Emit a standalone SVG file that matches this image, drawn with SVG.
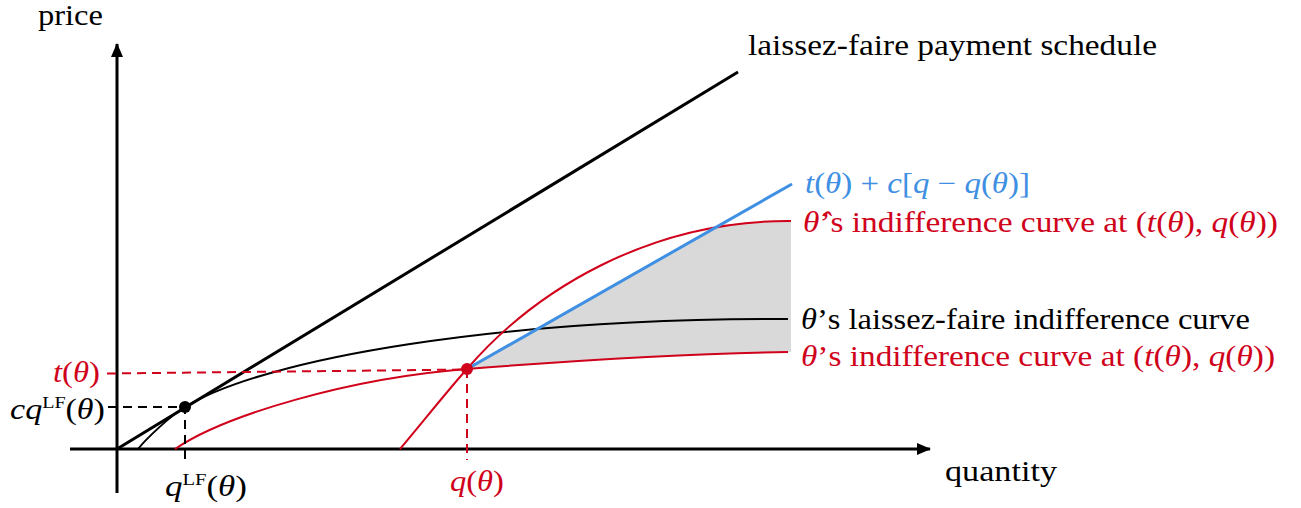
<svg xmlns="http://www.w3.org/2000/svg" width="1301" height="508" viewBox="0 0 1301 508">
<style>
text{font-family:"Liberation Serif","DejaVu Serif",serif;font-size:29px;fill:#000}
.it{font-style:italic}
.sup{font-size:17px}
.red{fill:#d0021b}
.blue{fill:#3f8fe3}
.ax{stroke:#000;stroke-width:3;fill:none}
.thin{stroke-width:2;fill:none}
.dash{stroke-width:2;stroke-dasharray:9 6;fill:none}
</style>
<defs>
<marker id="arr" viewBox="0 0 14 12" refX="13" refY="6" markerWidth="14" markerHeight="12" markerUnits="userSpaceOnUse" orient="auto">
<path d="M0,0 L14,6 L0,12 Z" fill="#000"/>
</marker>
<clipPath id="belowBlue"><polygon points="467,369 900,123 900,500 467,500"/></clipPath>
</defs>
<g id="shade">
<path d="M467,369 C535,290 650,220 791,221 L791,352 L788,352 C700,353 580,360 467,369 Z" fill="#d9d9d9" clip-path="url(#belowBlue)"/>
</g>
<g id="connectors">
<line id="xaxis" class="ax" x1="70" y1="449" x2="930" y2="449" marker-end="url(#arr)"/>
<line id="yaxis" class="ax" x1="117" y1="493" x2="117" y2="44" marker-end="url(#arr)"/>
<line id="lf-schedule" class="ax" x1="117" y1="449" x2="738" y2="72"/>
<path id="lf-indiff" class="thin" stroke="#000" d="M138,449 C146,439 170,416 185,407 C265,358 500,318 788,319"/>
<path id="theta-indiff" class="thin" stroke="#d0021b" d="M175,449 C225,415 350,378 467,369 C580,360 700,353 788,352"/>
<path id="thetahat-indiff" class="thin" stroke="#d0021b" d="M400,449 C422,423 448,390 467,369 C535,290 650,220 791,221"/>
<line id="blue-line" x1="467" y1="369" x2="792" y2="184" stroke="#3f8fe3" stroke-width="3"/>
<path id="dash-lf" class="dash" stroke="#000" d="M108,407 H185 V460"/>
<path id="dash-t" class="dash" stroke="#d0021b" d="M107,373.5 L467,369.5"/>
<path id="dash-q" class="dash" stroke="#d0021b" d="M467,369 V460"/>
</g>
<g id="points">
<circle id="lf-point" cx="185" cy="407" r="6" fill="#000"/>
<circle id="contract-point" cx="467" cy="369" r="6" fill="#d0021b"/>
</g>
<g id="labels">
<text id="lbl-price" x="38" y="25" textLength="65" lengthAdjust="spacingAndGlyphs">price</text>
<text id="lbl-quantity" x="945" y="481" textLength="112" lengthAdjust="spacingAndGlyphs">quantity</text>
<text id="lbl-schedule" x="748" y="55" textLength="409" lengthAdjust="spacingAndGlyphs">laissez-faire payment schedule</text>
<text id="lbl-blue" class="blue" x="805" y="193" textLength="225" lengthAdjust="spacingAndGlyphs"><tspan class="it">t</tspan>(<tspan class="it">θ</tspan>) + <tspan class="it">c</tspan>[<tspan class="it">q</tspan> − <tspan class="it">q</tspan>(<tspan class="it">θ</tspan>)]</text>
<text id="lbl-hat" class="red" x="803" y="232" textLength="475" lengthAdjust="spacingAndGlyphs"><tspan class="it">θ̂</tspan>’s indifference curve at (<tspan class="it">t</tspan>(<tspan class="it">θ</tspan>), <tspan class="it">q</tspan>(<tspan class="it">θ</tspan>))</text>
<text id="lbl-lf" x="801" y="329" textLength="449" lengthAdjust="spacingAndGlyphs"><tspan class="it">θ</tspan>’s laissez-faire indifference curve</text>
<text id="lbl-theta" class="red" x="801" y="366" textLength="474" lengthAdjust="spacingAndGlyphs"><tspan class="it">θ</tspan>’s indifference curve at (<tspan class="it">t</tspan>(<tspan class="it">θ</tspan>), <tspan class="it">q</tspan>(<tspan class="it">θ</tspan>))</text>
<text id="lbl-t" class="red" x="53" y="382" textLength="47" lengthAdjust="spacingAndGlyphs"><tspan class="it">t</tspan>(<tspan class="it">θ</tspan>)</text>
<text id="lbl-cq" x="10" y="419" textLength="95" lengthAdjust="spacingAndGlyphs"><tspan class="it">cq</tspan><tspan class="sup" dy="-11">LF</tspan><tspan dy="11">(</tspan><tspan class="it">θ</tspan>)</text>
<text id="lbl-qlf" x="165" y="496" textLength="82" lengthAdjust="spacingAndGlyphs"><tspan class="it">q</tspan><tspan class="sup" dy="-11">LF</tspan><tspan dy="11">(</tspan><tspan class="it">θ</tspan>)</text>
<text id="lbl-q" class="red" x="450" y="491" textLength="54" lengthAdjust="spacingAndGlyphs"><tspan class="it">q</tspan>(<tspan class="it">θ</tspan>)</text>
</g>
</svg>
